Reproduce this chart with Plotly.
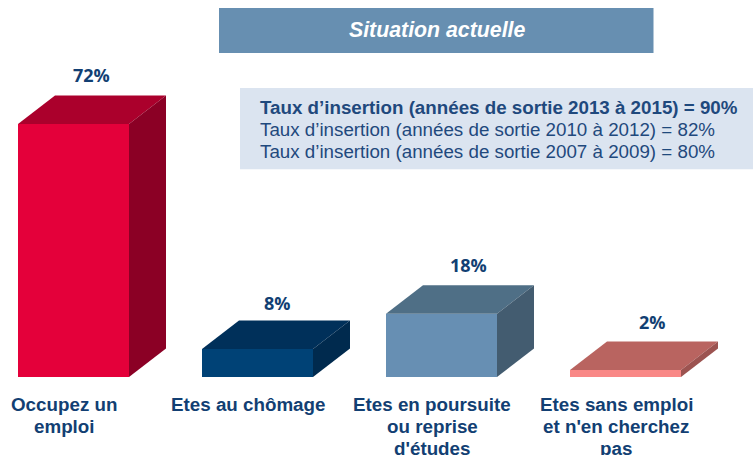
import plotly.graph_objects as go

# Data
categories = [["Occupez un", "emploi"], ["Etes au chômage"],
              ["Etes en poursuite", "ou reprise", "d'études"],
              ["Etes sans emploi", "et n'en cherchez", "pas"]]
values = [72, 8, 18, 2]
value_labels = ["72%", "8%", "18%", "2%"]
title_text = "Situation actuelle"
info_lines = ["<b>Taux d’insertion (années de sortie 2013 à 2015) = 90%</b>",
              "Taux d’insertion (années de sortie 2010 à 2012) = 82%",
              "Taux d’insertion (années de sortie 2007 à 2009) = 80%"]

# Styles
front_colors = ["#E4003A", "#004276", "#678FB3", "#F98886"]
top_colors = ["#AB002C", "#00305A", "#4F6F86", "#B96460"]
side_colors = ["#8B0025", "#002A4E", "#435C70", "#9C5350"]
NAVY = "#1F497D"
LABEL = "#123F73"
W, H = 753, 455
BASE = 377.5          # pixel row of the axis baseline
PX_PER_X = 184.0      # pixels per category
PX_PER_Y = 3.52       # pixels per percentage point
X0 = 73.5             # pixel column of first category centre
BAR_W = 111 / PX_PER_X
DX = 37 / PX_PER_X
DY = 28.5 / PX_PER_Y
value_xshift = [-1, 1, 8, 8]
value_gap = [20, 17, 20, 20]
LINE_PITCH = 22

fig = go.Figure()
xs = list(range(len(values)))
fig.add_trace(go.Bar(x=xs, y=values, width=BAR_W, marker=dict(color=front_colors, line=dict(width=0)),
                     hoverinfo="skip", showlegend=False))
for i, v in enumerate(values):
    l, r = i - BAR_W / 2, i + BAR_W / 2
    fig.add_trace(go.Scatter(x=[l, r, r + DX, l + DX, l], y=[v, v, v + DY, v + DY, v], mode="lines",
                             fill="toself", fillcolor=top_colors[i], line=dict(width=0),
                             hoverinfo="skip", showlegend=False))
    fig.add_trace(go.Scatter(x=[r, r + DX, r + DX, r, r], y=[0, DY, v + DY, v, 0], mode="lines",
                             fill="toself", fillcolor=side_colors[i], line=dict(width=0),
                             hoverinfo="skip", showlegend=False))
    fig.add_annotation(x=i + DX / 2, y=v + DY, text=f"<b>{value_labels[i]}</b>", showarrow=False,
                       xshift=value_xshift[i], yshift=value_gap[i], yanchor="middle",
                       font=dict(family="Open Sans", size=18, color=LABEL))
    for k, line in enumerate(categories[i]):
        fig.add_annotation(x=i, y=0, text=f"<b>{line}</b>", showarrow=False, xshift=-9.5,
                           yshift=-27 - LINE_PITCH * k, yanchor="middle", align="center",
                           font=dict(family="Liberation Sans", size=18.8, color=LABEL))


def py(p):
    return (BASE - p) / BASE


def px(p):
    return p / W


fig.add_shape(type="rect", xref="paper", yref="paper", x0=px(219), x1=px(653.5), y0=py(53), y1=py(8),
              fillcolor="#678FB1", line_width=0, layer="below")
fig.add_shape(type="rect", xref="paper", yref="paper", x0=px(240), x1=px(753), y0=py(169.5), y1=py(88),
              fillcolor="#DBE4F0", line_width=0, layer="below")
fig.add_annotation(xref="paper", yref="paper", x=px(437), y=py(30), text=f"<b><i>{title_text}</i></b>",
                   showarrow=False, yanchor="middle", font=dict(family="Liberation Sans", size=21.3, color="white"))
for line, row in zip(info_lines, [108, 130, 152]):
    fig.add_annotation(xref="paper", yref="paper", x=px(257.5), y=py(row), text=line, xanchor="left",
                       yanchor="middle", showarrow=False,
                       font=dict(family="Liberation Sans", size=18.75, color=NAVY))

fig.update_layout(
    width=W, height=H, margin=dict(l=0, r=0, t=0, b=H - BASE),
    paper_bgcolor="white", plot_bgcolor="white", showlegend=False,
    xaxis=dict(range=[-X0 / PX_PER_X, (W - X0) / PX_PER_X], visible=False),
    yaxis=dict(range=[0, BASE / PX_PER_Y], visible=False),
)
fig.write_html("out.html", config=dict(displayModeBar=False),
               post_script="document.body.style.margin='0';")
